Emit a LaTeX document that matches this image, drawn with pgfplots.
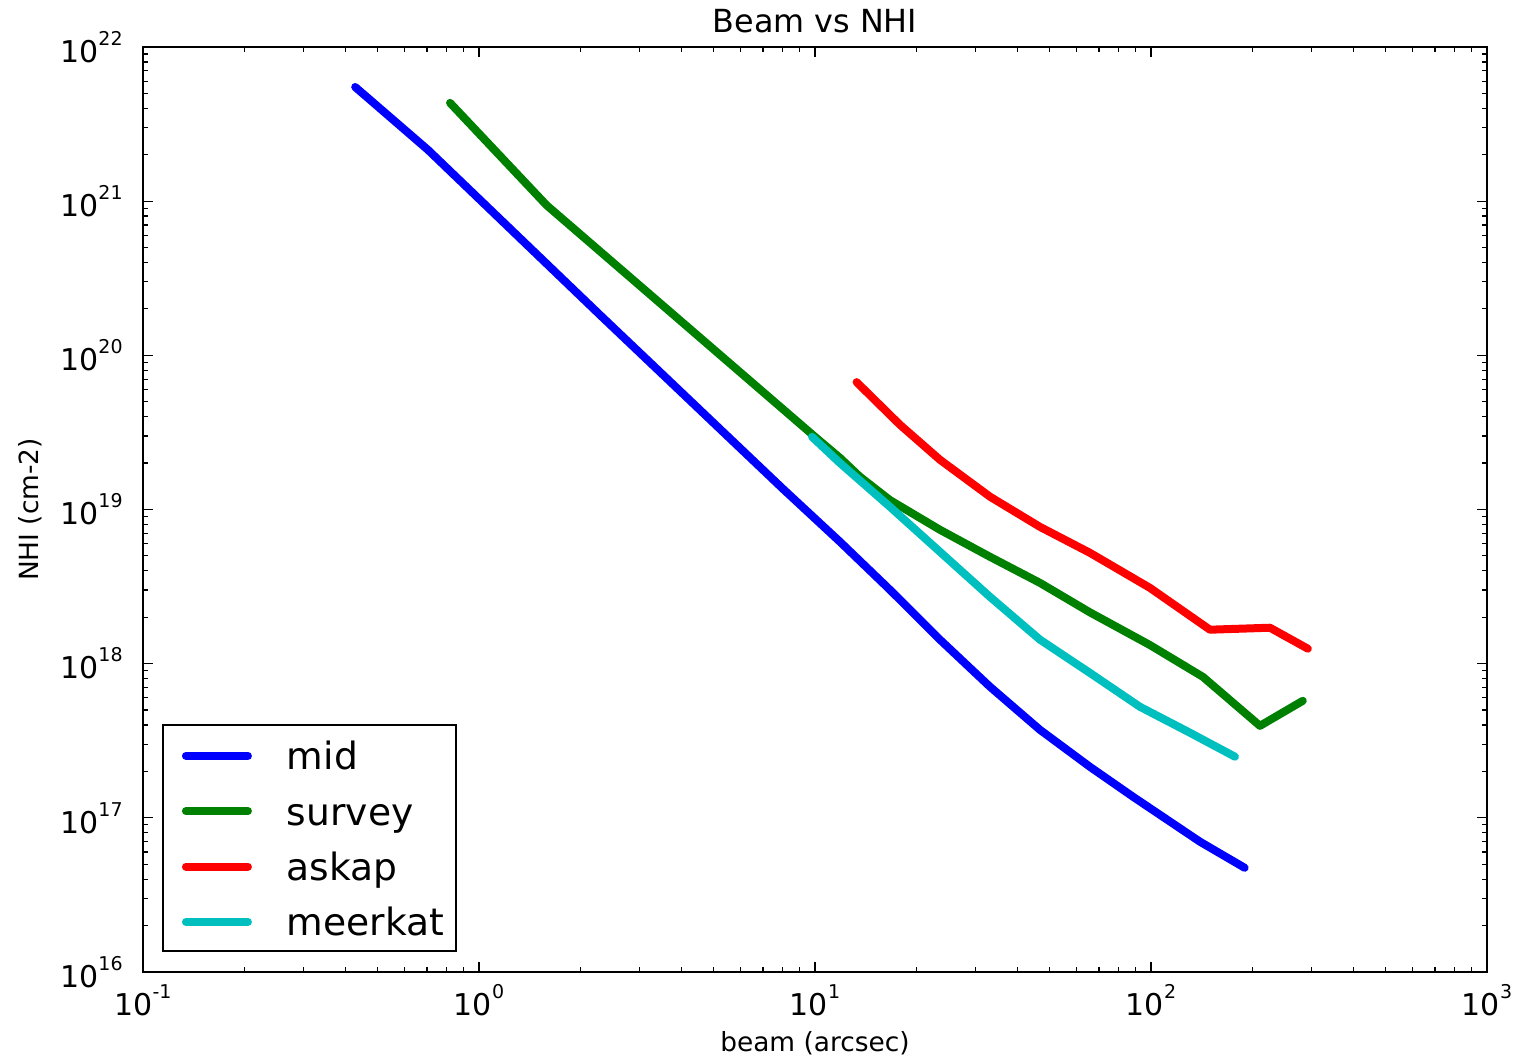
\documentclass[border=0pt]{standalone}
\usepackage{fontspec}
\setmainfont{DejaVu Sans}
\usepackage{pgfplots}
\pgfplotsset{compat=1.18}
\definecolor{mblue}{rgb}{0,0,1}
\definecolor{mgreen}{rgb}{0,0.5,0}
\definecolor{mred}{rgb}{1,0,0}
\definecolor{mcyan}{rgb}{0,0.75,0.75}
\newcommand{\tl}[1]{10\raisebox{8.5pt}{\fontsize{9.5pt}{10pt}\selectfont #1}}
\begin{document}
\begin{tikzpicture}
\useasboundingbox (-71.5pt,-44.5pt) rectangle (686.5pt,486pt);
\begin{axis}[
  at={(0pt,0pt)}, anchor=south west,
  scale only axis, width=672pt, height=462.5pt,
  xmode=log, ymode=log,
  xmin=0.1, xmax=1000, ymin=1e16, ymax=1e22,
  xtick={0.1,1,10,100,1000},
  xticklabels={\tl{-1},\tl{0},\tl{1},\tl{2},\tl{3}},
  ytick={1e16,1e17,1e18,1e19,1e20,1e21,1e22},
  yticklabels={\tl{16},\tl{17},\tl{18},\tl{19},\tl{20},\tl{21},\tl{22}},
  tick align=inside,
  major tick length=5pt, minor tick length=2.5pt,
  every tick/.style={black, line width=0.6pt},
  axis line style={line width=1.2pt},
  tick label style={font=\fontsize{15}{18}\selectfont},
  xticklabel style={inner sep=0pt, anchor=north, yshift=-6pt},
  yticklabel style={inner sep=0pt, anchor=east, xshift=-10pt},
  title={Beam vs NHI},
  every axis title/.style={at={(axis description cs:0.5,1.0151)}, anchor=base, inner sep=0pt, font=\fontsize{15.9}{19}\selectfont},
  xlabel={beam (arcsec)}, ylabel={NHI (cm-2)},
  every axis x label/.style={at={(axis description cs:0.5,-0.0865)}, anchor=base, inner sep=0pt, font=\fontsize{13.2}{16}\selectfont},
  every axis y label/.style={at={(axis description cs:-0.0841,0.5)}, rotate=90, anchor=center, inner sep=0pt, font=\fontsize{13.2}{16}\selectfont},
  legend image code/.code={\path[draw=none,fill=none] (0pt,0pt) -- (56pt,0pt); \draw[#1] (5.5pt,7pt) -- (36.5pt,7pt);},
  legend style={at={(0.0141,0.0216)}, anchor=south west, draw=black, line width=1pt,
    font=\fontsize{18.8}{22}\selectfont, inner xsep=6pt, inner ysep=5.5pt, row sep=8.7pt,
    column sep=0pt,
    cells={anchor=base west},
    nodes={inner sep=0pt, text height=17pt, text depth=2pt}},
  every axis plot/.append style={line width=4pt, line join=round, line cap=round},
]
\addplot[mblue] coordinates {(0.428,5.5e21)(0.467,4.67e21)(0.705,2.15e21)(2.29,1.83e20)(8.03,1.36e19)(11.87,6.17e18)(16.72,3.01e18)(23.55,1.43e18)(33.18,7.08e17)(46.74,3.72e17)(65.84,2.14e17)(88.4,1.37e17)(140,6.99e16)(190,4.74e16)};
\addlegendentry{mid}
\addplot[mgreen] coordinates {(0.82,4.34e21)(1.59,9.4e20)(10,2.96e19)(11.87,2.16e19)(13.61,1.63e19)(16.72,1.15e19)(23.55,7.38e18)(33.18,4.93e18)(46.74,3.34e18)(65.84,2.15e18)(99.3,1.32e18)(142.8,8.2e17)(211,3.95e17)(283,5.74e17)};
\addlegendentry{survey}
\addplot[mred] coordinates {(13.3,6.7e19)(17.91,3.54e19)(23.55,2.10e19)(33.18,1.21e19)(46.74,7.71e18)(65.84,5.23e18)(99.3,3.10e18)(149.8,1.66e18)(226,1.71e18)(293,1.25e18)};
\addlegendentry{askap}
\addplot[mcyan] coordinates {(9.8,2.96e19)(11.87,2.0e19)(16.72,1.04e19)(23.55,5.31e18)(33.18,2.71e18)(46.74,1.43e18)(65.84,8.7e17)(92.7,5.25e17)(130.7,3.56e17)(177.8,2.49e17)};
\addlegendentry{meerkat}
\end{axis}
\end{tikzpicture}
\end{document}
